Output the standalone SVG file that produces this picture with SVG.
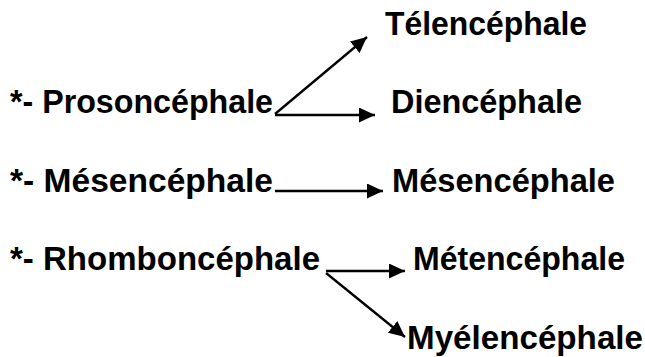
<svg xmlns="http://www.w3.org/2000/svg" width="645" height="357" viewBox="0 0 645 357">
<defs>
<style>
text{font-family:"Liberation Sans",Arial,sans-serif;font-weight:bold;font-size:33px;fill:#000}
.c line{stroke:#000;stroke-width:2.3;marker-end:url(#ah)}
</style>
<marker id="ah" markerUnits="userSpaceOnUse" markerWidth="17" markerHeight="15" refX="16" refY="7.5" orient="auto">
<path d="M0,0 L16,7.5 L0,15 z" fill="#000"/>
</marker>
</defs>
<rect width="645" height="357" fill="#fff"/>
<g id="prosencephale"><text x="10" y="113" textLength="263" lengthAdjust="spacingAndGlyphs">*- Prosoncéphale</text></g>
<g id="mesencephale-l"><text x="10" y="192" textLength="263" lengthAdjust="spacingAndGlyphs">*- Mésencéphale</text></g>
<g id="rhombencephale"><text x="10" y="270" textLength="310" lengthAdjust="spacingAndGlyphs">*- Rhomboncéphale</text></g>
<g id="telencephale"><text x="385" y="35" textLength="202" lengthAdjust="spacingAndGlyphs">Télencéphale</text></g>
<g id="diencephale"><text x="391" y="113" textLength="191" lengthAdjust="spacingAndGlyphs">Diencéphale</text></g>
<g id="mesencephale-r"><text x="392" y="192" textLength="223" lengthAdjust="spacingAndGlyphs">Mésencéphale</text></g>
<g id="metencephale"><text x="413" y="270" textLength="212" lengthAdjust="spacingAndGlyphs">Métencéphale</text></g>
<g id="myelencephale"><text x="407" y="349" textLength="236" lengthAdjust="spacingAndGlyphs">Myélencéphale</text></g>
<g id="connectors" class="c">
<line x1="275" y1="114" x2="367" y2="37"/>
<line x1="275" y1="115" x2="375" y2="115"/>
<line x1="275" y1="191" x2="383" y2="191"/>
<line x1="326" y1="271" x2="405" y2="271"/>
<line x1="326" y1="273" x2="405" y2="337"/>
</g>
</svg>
